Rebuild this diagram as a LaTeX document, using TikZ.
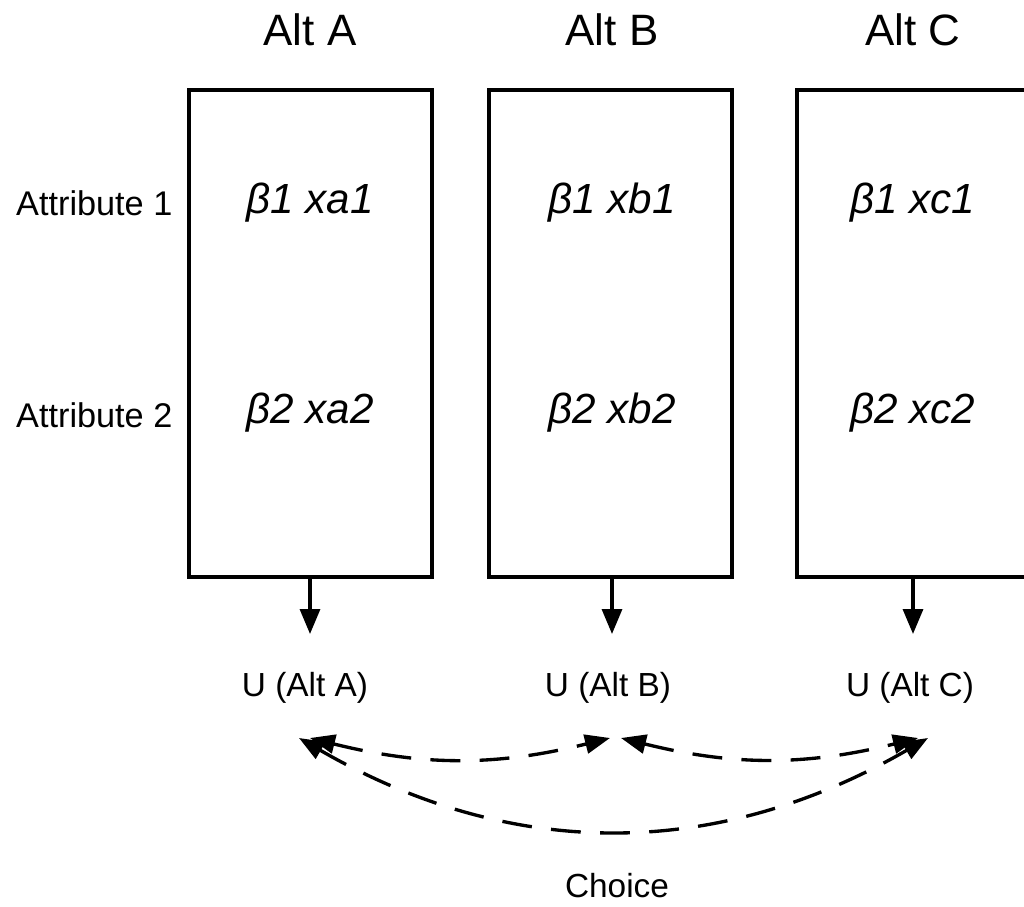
\documentclass[tikz,border=0pt]{standalone}
\usepackage{fontspec}
\setmainfont{Liberation Sans}
\usetikzlibrary{arrows.meta}
\begin{document}
\begin{tikzpicture}[x=0.02cm, y=0.02cm,
  altbox/.style={draw, line width=2pt, minimum width=243*0.02cm, minimum height=487*0.02cm, inner sep=0pt},
  title/.style={font=\fontsize{25}{30}\selectfont},
  attr/.style={font=\fontsize{19.5}{23}\selectfont},
  term/.style={font=\fontsize{24}{29}\selectfont\itshape},
  util/.style={font=\fontsize{19}{23}\selectfont},
  down/.style={line width=1.9pt, -{Triangle[width=0.4cm,length=0.5cm]}},
  dasharrow/.style={line width=1.9pt, dash pattern=on 17pt off 11pt,
    {Triangle[width=0.38cm,length=0.5cm]}-{Triangle[width=0.38cm,length=0.5cm]}}]
\clip (0,0) rectangle (1024,-906);

% column titles
\node[title] (tA) at (310,-30) {Alt A};
\node[title] (tB) at (612,-30) {Alt B};
\node[title] (tC) at (913,-30) {Alt C};

% alternative boxes
\node[altbox] (boxA) at (310.5,-333.5) {};
\node[altbox] (boxB) at (610.5,-333.5) {};
\node[altbox] (boxC) at (918.5,-333.5) {};

% row labels
\node[attr, anchor=west] (at1) at (10,-203) {Attribute 1};
\node[attr, anchor=west] (at2) at (10,-415) {Attribute 2};

% utility terms
\node[term] (a1) at (310,-203) {β1 xa1};
\node[term] (a2) at (310,-413) {β2 xa2};
\node[term] (b1) at (612,-203) {β1 xb1};
\node[term] (b2) at (612,-413) {β2 xb2};
\node[term] (c1) at (913,-203) {β1 xc1};
\node[term] (c2) at (913,-413) {β2 xc2};

% utilities
\node[util] (uA) at (305,-688) {U (Alt A)};
\node[util] (uB) at (608,-688) {U (Alt B)};
\node[util] (uC) at (910,-688) {U (Alt C)};
\node[util] (choice) at (617,-886) {Choice};

% arrows from boxes to utilities
\coordinate (dA) at (310,-634);
\coordinate (dB) at (612,-634);
\coordinate (dC) at (913,-634);
\draw[down] (boxA.south -| dA) -- (dA);
\draw[down] (boxB.south -| dB) -- (dB);
\draw[down] (boxC.south -| dC) -- (dC);

% pairwise comparisons
\coordinate (pA1) at (310,-738);
\coordinate (pA2) at (299,-738);
\coordinate (pB1) at (610,-738);
\coordinate (pB2) at (621,-738);
\coordinate (pC1) at (918,-738);
\coordinate (pC2) at (928,-738);
\draw[dasharrow] (pA1) to[bend right=14] (pB1);
\draw[dasharrow] (pB2) to[bend right=14] (pC1);
\draw[dasharrow] (pA2) to[bend right=30] (pC2);
\end{tikzpicture}
\end{document}
